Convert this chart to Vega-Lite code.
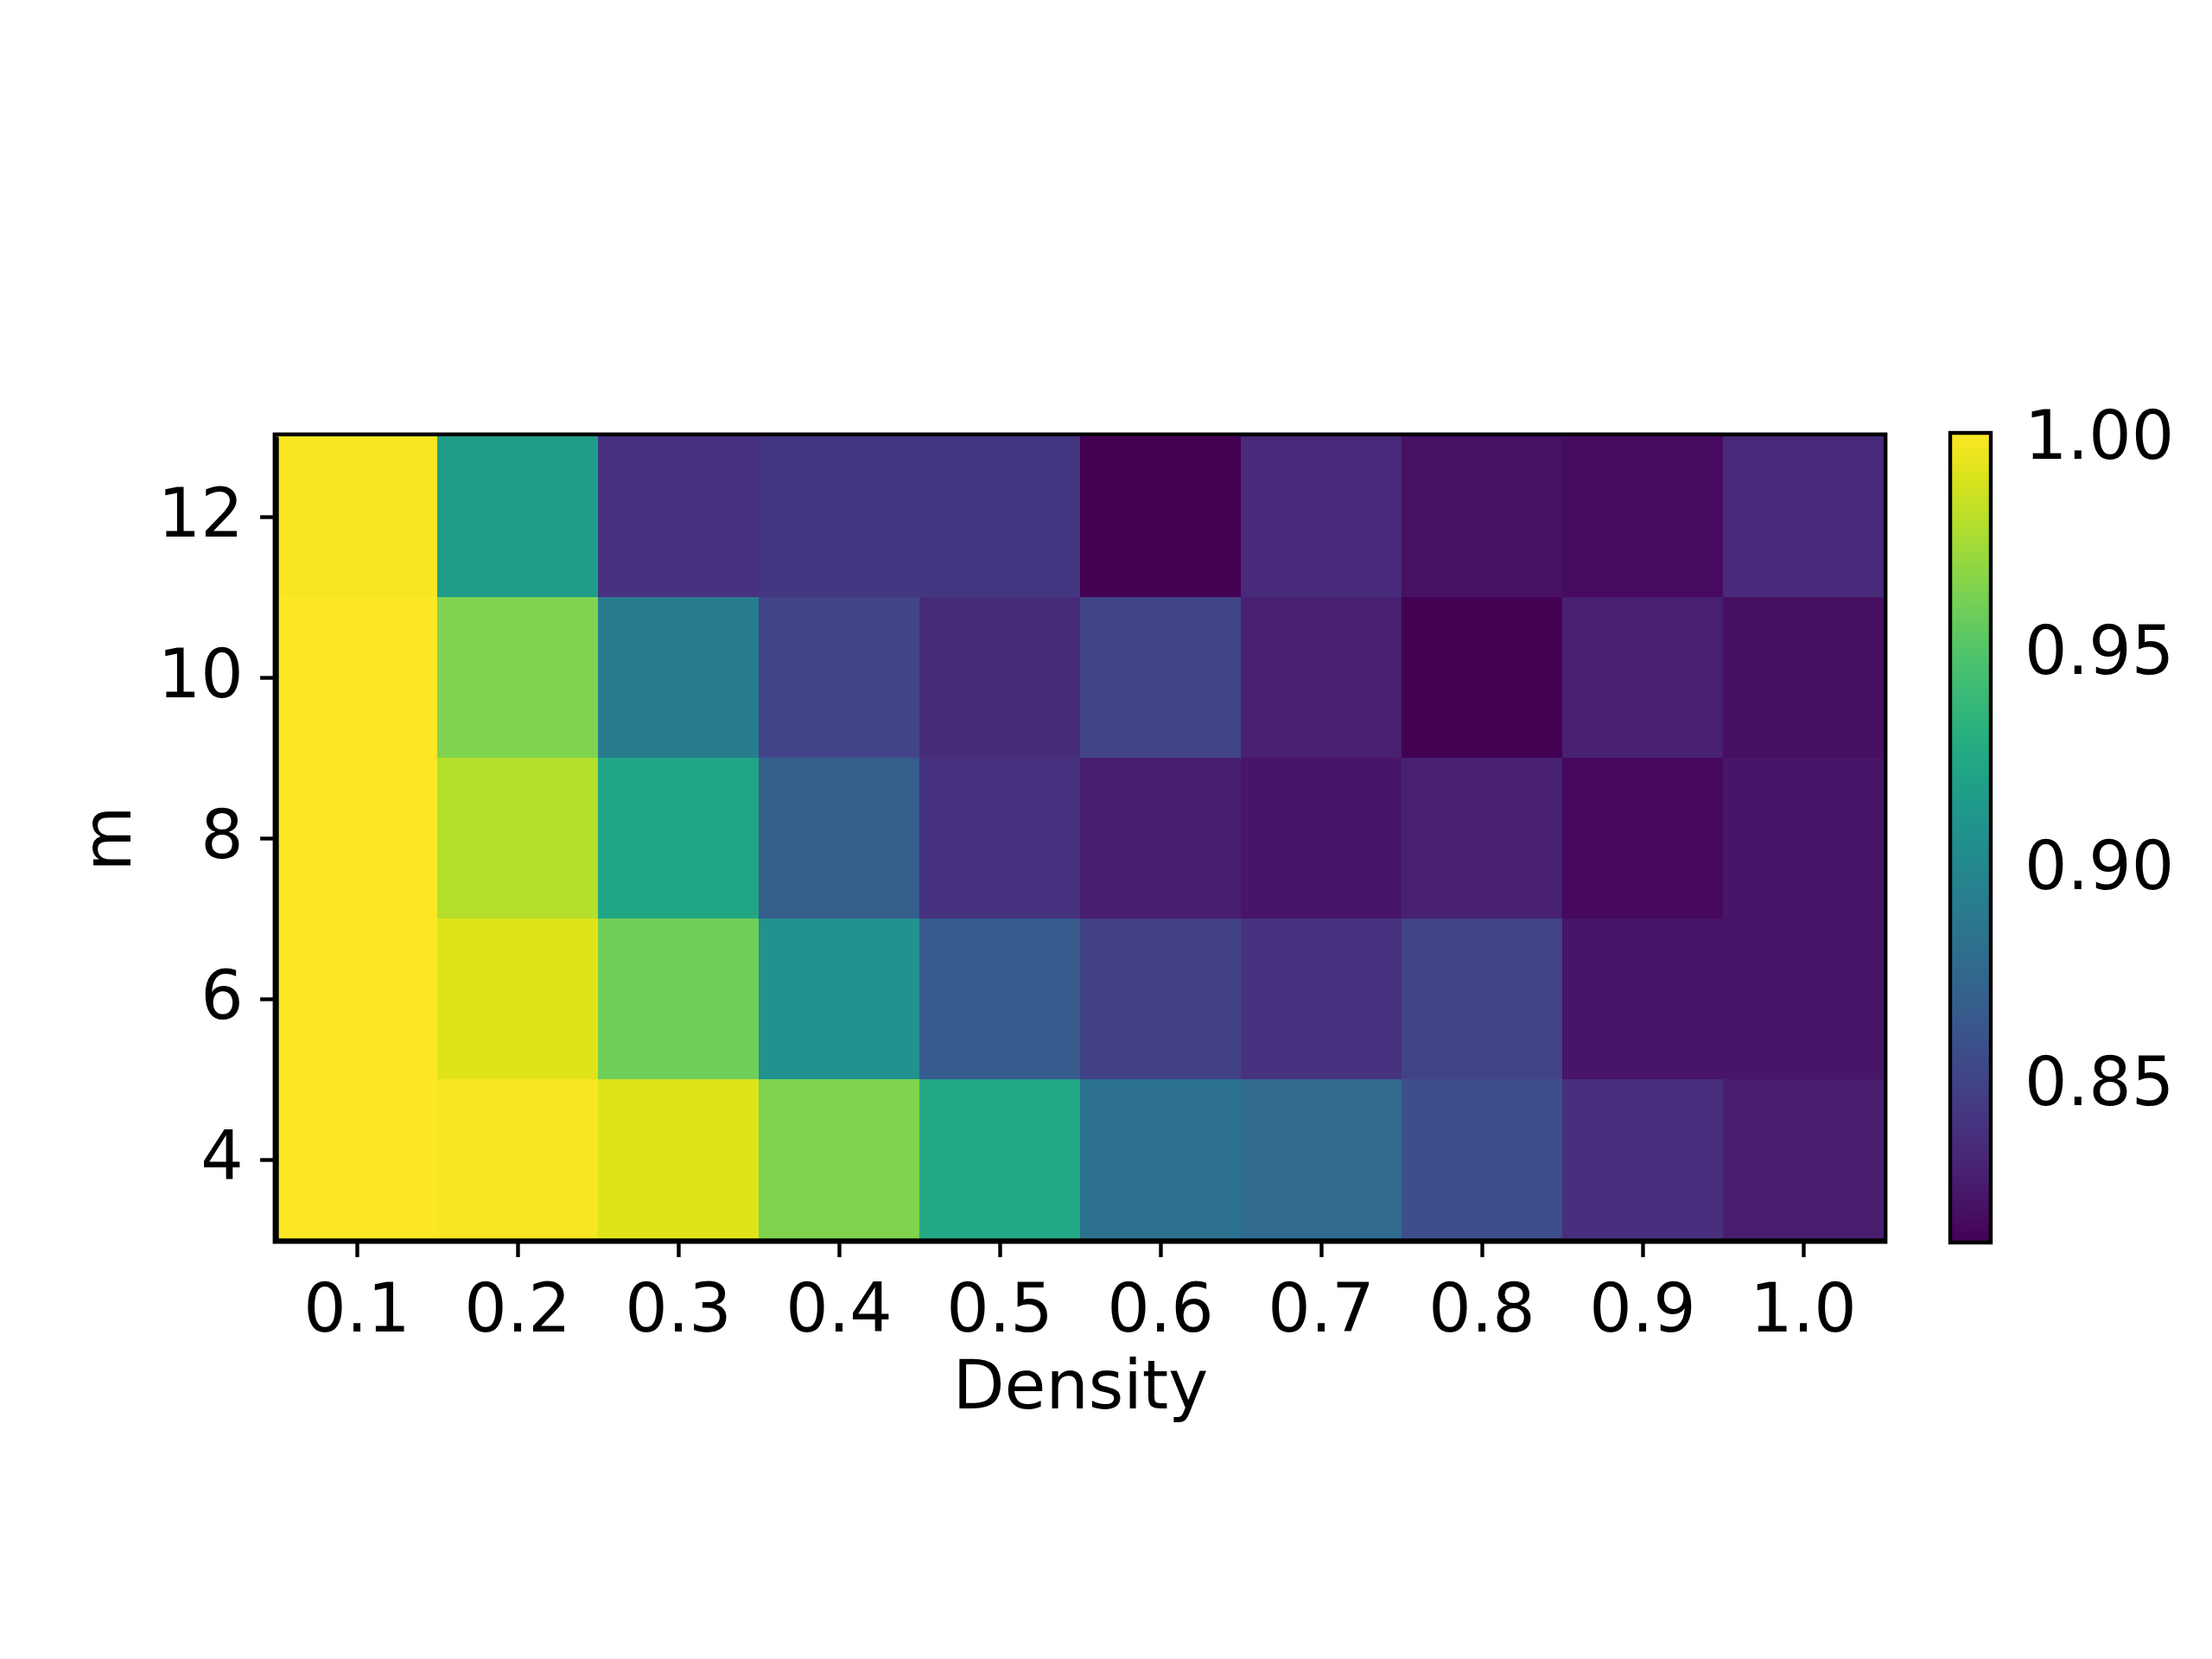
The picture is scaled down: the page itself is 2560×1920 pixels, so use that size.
{
  "$schema": "https://vega.github.io/schema/vega-lite/v6.json",
  "autosize": {"type": "none"},
  "width": 1860,
  "height": 930,
  "padding": {"left": 320, "top": 505, "right": 380, "bottom": 485},
  "background": "white",
  "data": {"values": [
    {"density": 0.1, "m": 12, "value": 0.998}, {"density": 0.2, "m": 12, "value": 0.916}, {"density": 0.3, "m": 12, "value": 0.839}, {"density": 0.4, "m": 12, "value": 0.841}, {"density": 0.5, "m": 12, "value": 0.841}, {"density": 0.6, "m": 12, "value": 0.812}, {"density": 0.7, "m": 12, "value": 0.834}, {"density": 0.8, "m": 12, "value": 0.820}, {"density": 0.9, "m": 12, "value": 0.817}, {"density": 1.0, "m": 12, "value": 0.834},
    {"density": 0.1, "m": 10, "value": 1.000}, {"density": 0.2, "m": 10, "value": 0.964}, {"density": 0.3, "m": 10, "value": 0.890}, {"density": 0.4, "m": 10, "value": 0.850}, {"density": 0.5, "m": 10, "value": 0.835}, {"density": 0.6, "m": 10, "value": 0.849}, {"density": 0.7, "m": 10, "value": 0.828}, {"density": 0.8, "m": 10, "value": 0.812}, {"density": 0.9, "m": 10, "value": 0.828}, {"density": 1.0, "m": 10, "value": 0.819},
    {"density": 0.1, "m": 8, "value": 1.000}, {"density": 0.2, "m": 8, "value": 0.979}, {"density": 0.3, "m": 8, "value": 0.923}, {"density": 0.4, "m": 8, "value": 0.867}, {"density": 0.5, "m": 8, "value": 0.839}, {"density": 0.6, "m": 8, "value": 0.827}, {"density": 0.7, "m": 8, "value": 0.822}, {"density": 0.8, "m": 8, "value": 0.828}, {"density": 0.9, "m": 8, "value": 0.816}, {"density": 1.0, "m": 8, "value": 0.822},
    {"density": 0.1, "m": 6, "value": 1.000}, {"density": 0.2, "m": 6, "value": 0.991}, {"density": 0.3, "m": 6, "value": 0.959}, {"density": 0.4, "m": 6, "value": 0.907}, {"density": 0.5, "m": 6, "value": 0.865}, {"density": 0.6, "m": 6, "value": 0.848}, {"density": 0.7, "m": 6, "value": 0.839}, {"density": 0.8, "m": 6, "value": 0.849}, {"density": 0.9, "m": 6, "value": 0.822}, {"density": 1.0, "m": 6, "value": 0.822},
    {"density": 0.1, "m": 4, "value": 1.000}, {"density": 0.2, "m": 4, "value": 0.998}, {"density": 0.3, "m": 4, "value": 0.991}, {"density": 0.4, "m": 4, "value": 0.964}, {"density": 0.5, "m": 4, "value": 0.925}, {"density": 0.6, "m": 4, "value": 0.882}, {"density": 0.7, "m": 4, "value": 0.877}, {"density": 0.8, "m": 4, "value": 0.856}, {"density": 0.9, "m": 4, "value": 0.837}, {"density": 1.0, "m": 4, "value": 0.826}
  ]},
  "mark": {"type": "rect"},
  "encoding": {
    "x": {
      "field": "density", "type": "ordinal", "title": "Density",
      "scale": {"paddingInner": 0, "paddingOuter": 0},
      "axis": {"labelAngle": 0, "labelExpr": "format(datum.value, '.1f')", "labelPadding": 25, "titlePadding": 12}
    },
    "y": {
      "field": "m", "type": "ordinal", "title": "m", "sort": "descending",
      "scale": {"paddingInner": 0, "paddingOuter": 0},
      "axis": {"labelPadding": 19.4, "titlePadding": 16}
    },
    "color": {
      "field": "value", "type": "quantitative",
      "scale": {"scheme": "viridis", "domain": [0.812, 1.0]},
      "legend": {
        "type": "gradient", "title": null, "orient": "none", "legendX": 1937, "legendY": -4,
        "direction": "vertical", "gradientLength": 937, "gradientThickness": 47,
        "values": [0.85, 0.9, 0.95, 1.0], "format": ".2f",
        "labelOffset": 39, "labelBaseline": "middle",
        "encode": {"labels": {"update": {"baseline": {"value": "middle"}, "dy": {"value": 7}}}}
      }
    }
  },
  "config": {
    "font": "DejaVu Sans",
    "view": {"stroke": "black", "strokeWidth": 8.8},
    "axis": {
      "domain": true, "domainColor": "black", "domainWidth": 4.4, "grid": false,
      "tickColor": "black", "tickWidth": 4.4, "tickSize": 19.4,
      "labelFont": "DejaVu Sans", "labelFontSize": 77.8, "labelColor": "black",
      "titleFont": "DejaVu Sans", "titleFontSize": 77.8, "titleColor": "black", "titleFontWeight": "normal"
    },
    "legend": {
      "padding": 0, "labelFont": "DejaVu Sans", "labelFontSize": 77.8, "labelColor": "black",
      "labelOffset": 39, "gradientLabelOffset": 39, "labelLimit": 0, "gradientLabelLimit": 0, "labelOverlap": false,
      "gradientStrokeColor": "black", "gradientStrokeWidth": 4.4
    }
  }
}
